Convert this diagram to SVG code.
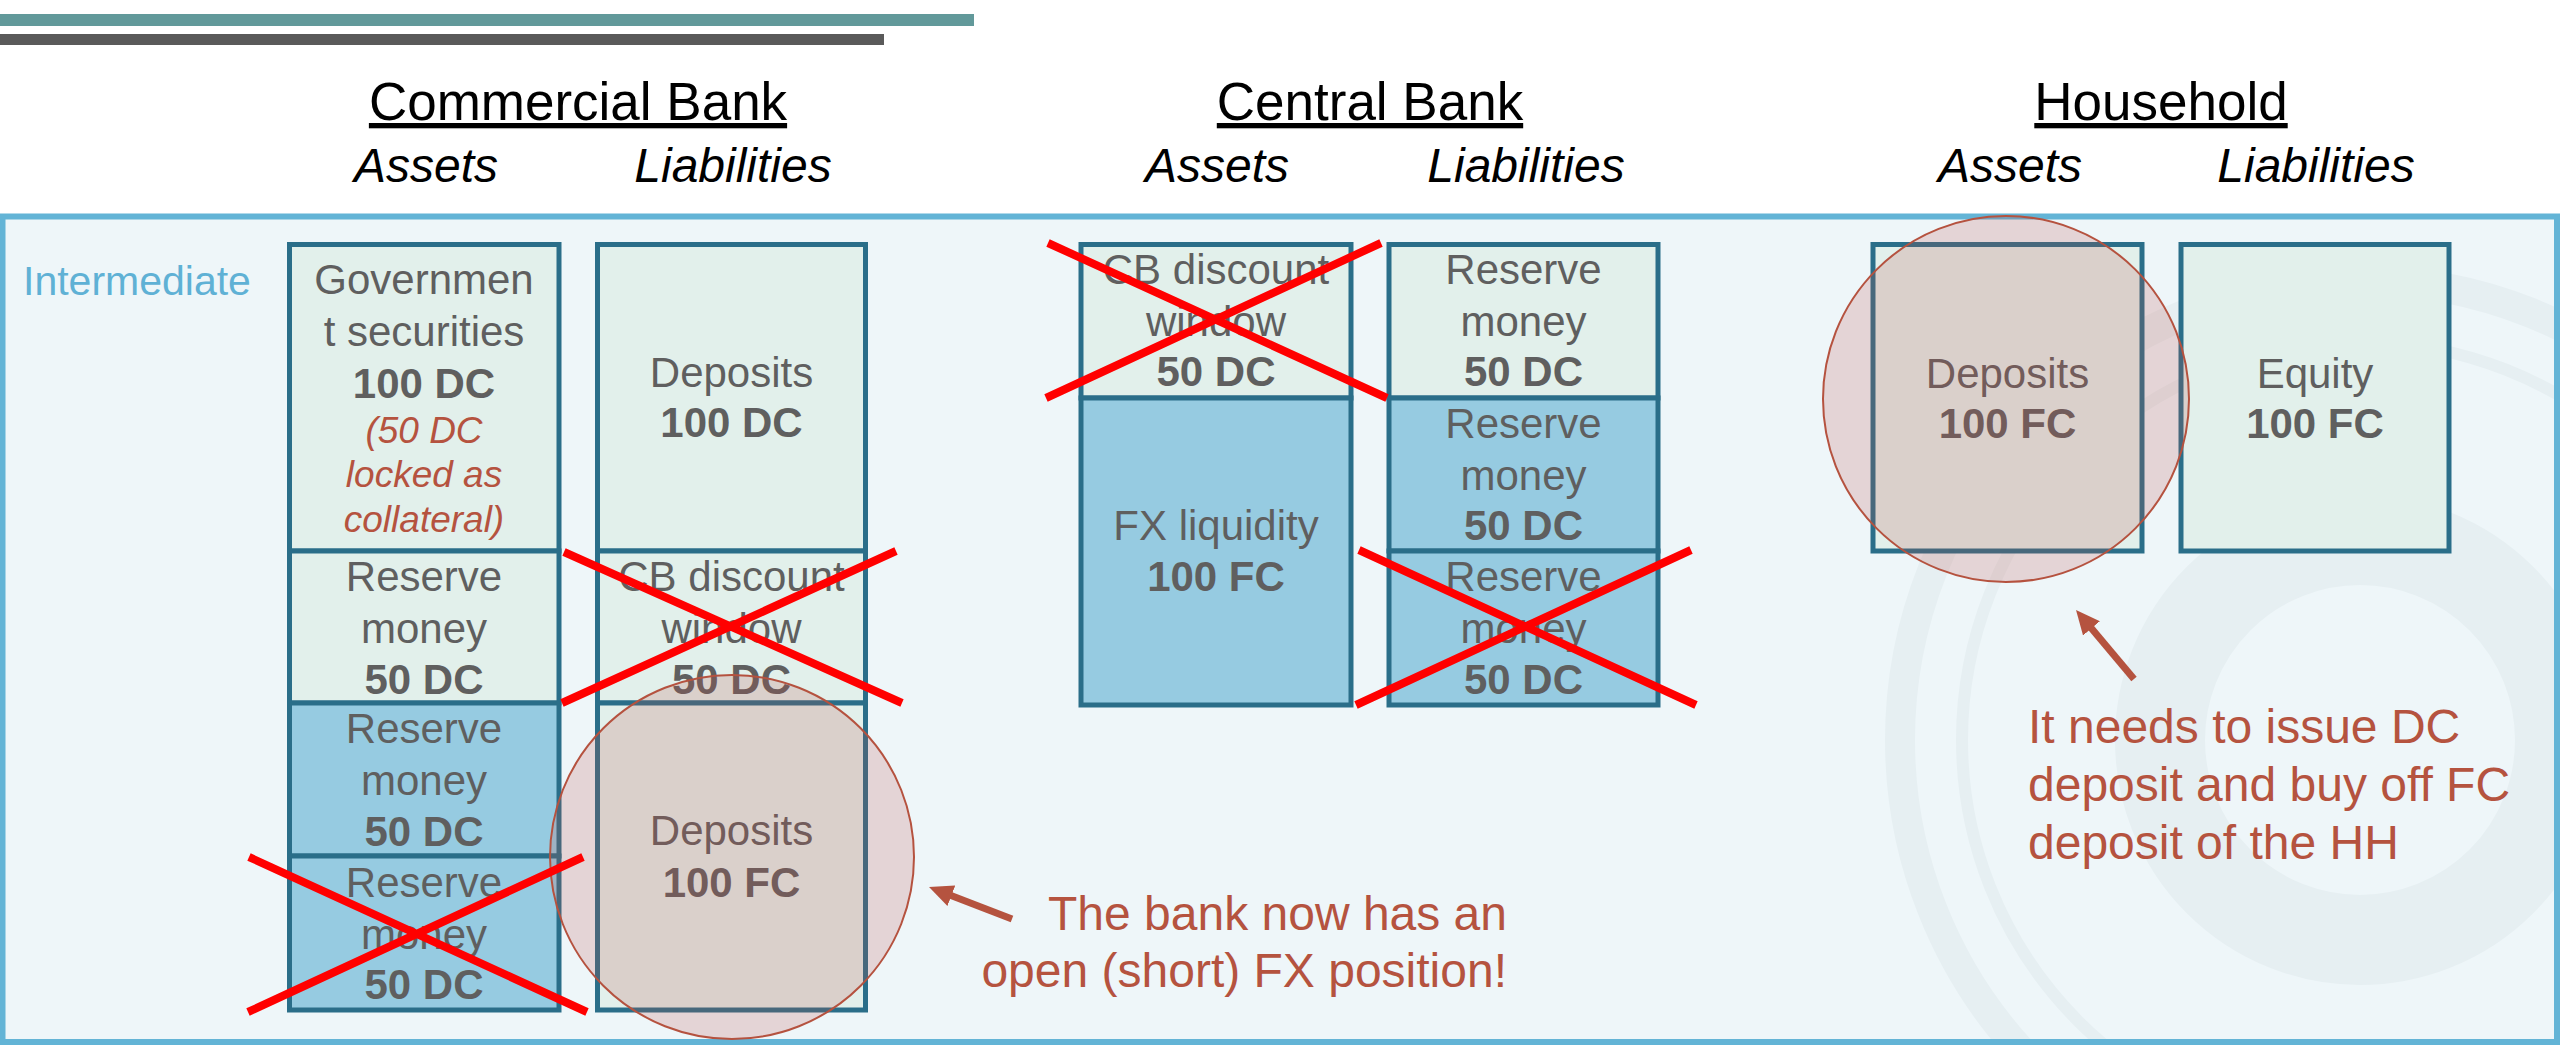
<svg xmlns="http://www.w3.org/2000/svg" width="2560" height="1045" viewBox="0 0 2560 1045">
<defs>
<style>
.t{font-family:"Liberation Sans",Arial,sans-serif}
.title{font-size:53px;fill:#000;text-anchor:middle;text-decoration:underline}
.sub{font-size:48px;font-style:italic;fill:#000;text-anchor:middle}
.lbl{font-size:42px;fill:#5f5f5f;text-anchor:middle}
.val{font-size:42px;font-weight:bold;fill:#5f5f5f;text-anchor:middle}
.note{font-size:37px;font-style:italic;fill:#b5533f;text-anchor:middle}
.ann{font-size:48px;fill:#b5533f}
.mint{fill:#e2f0eb;stroke:#2a6e89;stroke-width:5}
.blue{fill:#96cbe1;stroke:#2a6e89;stroke-width:5}
.cross{stroke:#ff0000;stroke-width:8;fill:none}
.hl{fill:#c0504d;fill-opacity:0.2;stroke:#b5523f;stroke-width:2}
.arr{stroke:#b5533f;stroke-width:7;fill:none;marker-end:url(#ah)}
.wm{fill:none;stroke:#e6eff2}
</style>
<marker id="ah" markerUnits="userSpaceOnUse" viewBox="0 0 24 22" markerWidth="24" markerHeight="22" refX="6" refY="11" orient="auto">
<path d="M0,0 L24,11 L0,22 z" fill="#b5533f"/>
</marker>
<clipPath id="pc"><rect x="5" y="220" width="2549" height="819"/></clipPath>
</defs>

<rect x="0" y="0" width="2560" height="1045" fill="#ffffff"/>
<rect x="0" y="14" width="974" height="12" fill="#62999a"/>
<rect x="0" y="34" width="884" height="11" fill="#5a5a5a"/>

<g id="panel">
<rect x="2.5" y="216.5" width="2554.5" height="825.5" fill="#eef6f9" stroke="#63b4d6" stroke-width="6"/>
<g clip-path="url(#pc)">
<circle class="wm" cx="2360" cy="740" r="460" stroke-width="30"/>
<circle class="wm" cx="2360" cy="740" r="398" stroke-width="12" stroke="#e9f2f5"/>
<circle class="wm" cx="2360" cy="740" r="200" stroke-width="90" stroke="#e8f1f4"/>
</g>
<text class="t" x="23" y="295" font-size="41" fill="#5fb1d5">Intermediate</text>
</g>

<g id="headers">
<text class="t title" x="578" y="120">Commercial Bank</text>
<text class="t sub" x="426" y="182">Assets</text>
<text class="t sub" x="733" y="182">Liabilities</text>
<text class="t title" x="1370" y="120">Central Bank</text>
<text class="t sub" x="1217" y="182">Assets</text>
<text class="t sub" x="1526" y="182">Liabilities</text>
<text class="t title" x="2161" y="120">Household</text>
<text class="t sub" x="2010" y="182">Assets</text>
<text class="t sub" x="2316" y="182">Liabilities</text>
</g>

<!-- Commercial bank -->
<g id="cb-gov">
<rect class="mint" x="289.5" y="244.5" width="269.5" height="306.5"/>
<text class="t lbl" x="424" y="294">Governmen</text>
<text class="t lbl" x="424" y="346">t securities</text>
<text class="t val" x="424" y="398">100 DC</text>
<text class="t note" x="424" y="443">(50 DC</text>
<text class="t note" x="424" y="487">locked as</text>
<text class="t note" x="424" y="532">collateral)</text>
</g>
<g id="cb-res1">
<rect class="mint" x="289.5" y="551" width="269.5" height="152"/>
<text class="t lbl" x="424" y="591">Reserve</text>
<text class="t lbl" x="424" y="643">money</text>
<text class="t val" x="424" y="694">50 DC</text>
</g>
<g id="cb-res2">
<rect class="blue" x="289.5" y="703" width="269.5" height="153"/>
<text class="t lbl" x="424" y="743">Reserve</text>
<text class="t lbl" x="424" y="795">money</text>
<text class="t val" x="424" y="846">50 DC</text>
</g>
<g id="cb-res3">
<rect class="blue" x="289.5" y="856" width="269.5" height="154"/>
<text class="t lbl" x="424" y="897">Reserve</text>
<text class="t lbl" x="424" y="949">money</text>
<text class="t val" x="424" y="999">50 DC</text>
</g>
<g id="cb-dep-dc">
<rect class="mint" x="597.5" y="244.5" width="268" height="306.5"/>
<text class="t lbl" x="731.5" y="387">Deposits</text>
<text class="t val" x="731.5" y="437">100 DC</text>
</g>
<g id="cb-disc">
<rect class="mint" x="597.5" y="551" width="268" height="152"/>
<text class="t lbl" x="731.5" y="591">CB discount</text>
<text class="t lbl" x="731.5" y="643">window</text>
<text class="t val" x="731.5" y="694">50 DC</text>
</g>
<g id="cb-dep-fc">
<rect class="mint" x="597.5" y="703" width="268" height="307"/>
<text class="t lbl" x="731.5" y="845">Deposits</text>
<text class="t val" x="731.5" y="897">100 FC</text>
</g>

<!-- Central bank -->
<g id="cen-disc">
<rect class="mint" x="1081" y="244.5" width="270" height="153.5"/>
<text class="t lbl" x="1216" y="284">CB discount</text>
<text class="t lbl" x="1216" y="336">window</text>
<text class="t val" x="1216" y="386">50 DC</text>
</g>
<g id="cen-fx">
<rect class="blue" x="1081" y="398" width="270" height="307"/>
<text class="t lbl" x="1216" y="540">FX liquidity</text>
<text class="t val" x="1216" y="591">100 FC</text>
</g>
<g id="cen-res1">
<rect class="mint" x="1389" y="244.5" width="269" height="153.5"/>
<text class="t lbl" x="1523.5" y="284">Reserve</text>
<text class="t lbl" x="1523.5" y="336">money</text>
<text class="t val" x="1523.5" y="386">50 DC</text>
</g>
<g id="cen-res2">
<rect class="blue" x="1389" y="398" width="269" height="153"/>
<text class="t lbl" x="1523.5" y="438">Reserve</text>
<text class="t lbl" x="1523.5" y="490">money</text>
<text class="t val" x="1523.5" y="540">50 DC</text>
</g>
<g id="cen-res3">
<rect class="blue" x="1389" y="551" width="269" height="154"/>
<text class="t lbl" x="1523.5" y="591">Reserve</text>
<text class="t lbl" x="1523.5" y="643">money</text>
<text class="t val" x="1523.5" y="694">50 DC</text>
</g>

<!-- Household -->
<g id="hh-dep">
<rect class="mint" x="1873" y="244.5" width="269" height="306.5"/>
<text class="t lbl" x="2007.5" y="388">Deposits</text>
<text class="t val" x="2007.5" y="438">100 FC</text>
</g>
<g id="hh-eq">
<rect class="mint" x="2181" y="244.5" width="268" height="306.5"/>
<text class="t lbl" x="2315" y="388">Equity</text>
<text class="t val" x="2315" y="438">100 FC</text>
</g>

<g id="highlights">
<circle class="hl" cx="732" cy="857" r="182"/>
<circle class="hl" cx="2006" cy="399" r="183"/>
</g>

<g id="crosses">
<path class="cross" d="M564,552 L902,703 M562,703 L896,551"/>
<path class="cross" d="M249,857 L587,1012 M248,1012 L583,857"/>
<path class="cross" d="M1048,243 L1387,398 M1046,398 L1381,243"/>
<path class="cross" d="M1359,550 L1696,705 M1356,705 L1691,550"/>
</g>

<g id="connectors">
<path class="arr" d="M1012,919 L945.8,893.5"/>
<path class="arr" d="M2134,679 L2087.6,623.8"/>
</g>

<g id="annotations">
<text class="t ann" x="1507" y="930" text-anchor="end">The bank now has an</text>
<text class="t ann" x="1507" y="987" text-anchor="end">open (short) FX position!</text>
<text class="t ann" x="2028" y="743">It needs to issue DC</text>
<text class="t ann" x="2028" y="801">deposit and buy off FC</text>
<text class="t ann" x="2028" y="859">deposit of the HH</text>
</g>
</svg>
